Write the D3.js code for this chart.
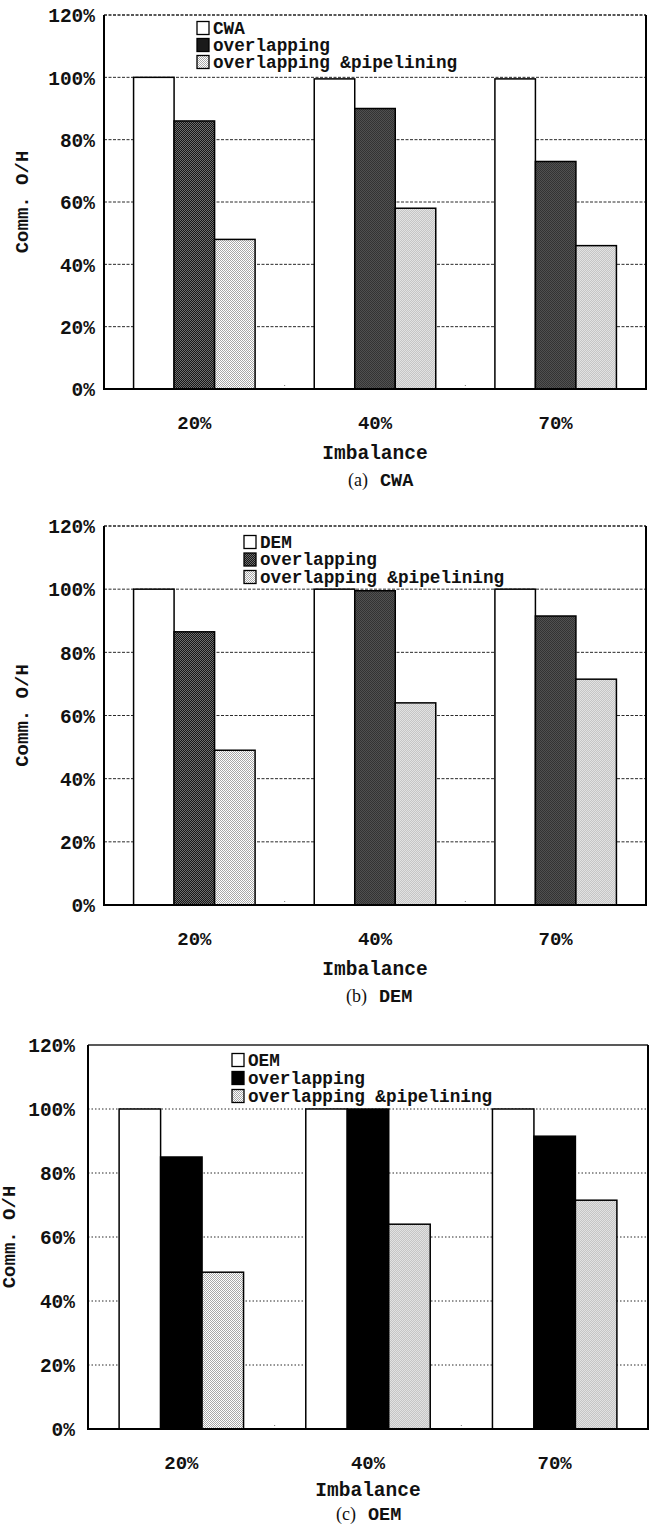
<!DOCTYPE html>
<html>
<head>
<meta charset="utf-8">
<script src="https://cdn.jsdelivr.net/npm/d3@7"></script>
<style>
  html, body { margin: 0; padding: 0; background: #fff; }
  svg { display: block; }
  .mono { font-family: "Liberation Mono", "DejaVu Sans Mono", monospace; font-weight: bold; fill: #111; }
  .serif { font-family: "Liberation Serif", "DejaVu Serif", serif; fill: #111; }
</style>
</head>
<body>
<svg id="fig" width="650" height="1527"></svg>
<script>
// Imbalance levels on the x axis and the y-axis tick values (percent).
const categories = ["20%", "40%", "70%"];
const yTickValues = [0, 20, 40, 60, 80, 100, 120];
const seriesKeys = ["base", "overlap", "pipe"];

// (a) CWA
const cwaNames = ["CWA", "overlapping", "overlapping &pipelining"];
const cwaBase = [100, 99.5, 99.5];
const cwaOverlap = [86, 90, 73];
const cwaPipe = [48, 58, 46];

// (b) DEM
const demNames = ["DEM", "overlapping", "overlapping &pipelining"];
const demBase = [100, 100, 100];
const demOverlap = [86.5, 99.5, 91.5];
const demPipe = [49, 64, 71.5];

// (c) OEM
const oemNames = ["OEM", "overlapping", "overlapping &pipelining"];
const oemBase = [100, 100, 100];
const oemOverlap = [85, 100, 91.5];
const oemPipe = [49, 64, 71.5];

const svg = d3.select("#fig");
const defs = svg.append("defs");

// Halftone-like screens used for the shaded bars.
function checker(id, a, b) {
  const p = defs.append("pattern").attr("id", id)
    .attr("patternUnits", "userSpaceOnUse").attr("width", 2).attr("height", 2);
  p.append("rect").attr("width", 2).attr("height", 2).attr("fill", a);
  p.append("rect").attr("width", 1).attr("height", 1).attr("fill", b);
  p.append("rect").attr("x", 1).attr("y", 1).attr("width", 1).attr("height", 1).attr("fill", b);
}
checker("darkScreen", "#161616", "#6e6e6e");
checker("lightScreen", "#ffffff", "#a8a8a8");

function panel(opt) {
  const g = svg.append("g");
  const { left, right, top, bottom } = opt;

  const x0 = d3.scaleBand().domain(categories).range([left, right]).padding(0);
  const x1 = d3.scaleBand().domain(seriesKeys).range([0, x0.bandwidth()])
    .paddingInner(0).paddingOuter(opt.outer);
  const y = d3.scaleLinear().domain([0, 120]).range([bottom, top]);

  // horizontal gridlines
  g.append("g").selectAll("line").data(yTickValues.filter(v => v > 0 && v < 120)).join("line")
    .attr("x1", left).attr("x2", right)
    .attr("y1", d => y(d)).attr("y2", d => y(d))
    .attr("stroke", "#2a2a2a").attr("stroke-width", 1)
    .attr("stroke-dasharray", opt.gridDash);

  // small marks between category groups on the baseline
  g.append("g").selectAll("line").data(categories.slice(1)).join("line")
    .attr("x1", d => x0(d)).attr("x2", d => x0(d))
    .attr("y1", bottom).attr("y2", bottom - 6)
    .attr("stroke", "#777").attr("stroke-width", 1).attr("stroke-dasharray", "1,2");

  const rows = categories.map((c, i) => ({
    cat: c,
    vals: [
      { key: "base", v: opt.base[i] },
      { key: "overlap", v: opt.overlap[i] },
      { key: "pipe", v: opt.pipe[i] }
    ]
  }));

  const fills = { base: "#ffffff", overlap: opt.overlapFill, pipe: "url(#lightScreen)" };

  g.append("g").selectAll("g").data(rows).join("g")
    .attr("transform", d => `translate(${x0(d.cat)},0)`)
    .selectAll("rect").data(d => d.vals).join("rect")
    .attr("x", d => x1(d.key))
    .attr("width", x1.bandwidth())
    .attr("y", d => y(d.v))
    .attr("height", d => y(0) - y(d.v))
    .attr("fill", d => fills[d.key])
    .attr("stroke", "#000").attr("stroke-width", 1.5);

  // plot frame
  g.append("line").attr("x1", left).attr("x2", right).attr("y1", top).attr("y2", top)
    .attr("stroke", "#222").attr("stroke-width", 1.6).attr("stroke-dasharray", opt.topDash);
  g.append("path")
    .attr("d", `M${left},${top}V${bottom}H${right}V${top}`)
    .attr("fill", "none").attr("stroke", "#000").attr("stroke-width", 2);

  // y axis labels
  const yAxis = d3.axisLeft(y).tickValues(yTickValues).tickFormat(d => d + "%")
    .tickSize(0).tickPadding(opt.yPad);
  const ya = g.append("g").attr("transform", `translate(${left},0)`).call(yAxis);
  ya.select(".domain").remove();
  ya.selectAll("text").attr("class", "mono").style("font-size", "19.5px").attr("dy", "0.35em");

  // x axis labels
  const xAxis = d3.axisBottom(x0).tickSize(0).tickPadding(0);
  const xa = g.append("g").attr("transform", `translate(0,${bottom + 33})`).call(xAxis);
  xa.select(".domain").remove();
  xa.selectAll("text").attr("class", "mono").style("font-size", "19px").attr("dy", "0.35em");

  const cx = (left + right) / 2;
  g.append("text").attr("class", "mono").style("font-size", "19.5px")
    .attr("x", cx).attr("y", bottom + opt.titleOff).attr("dy", "0.35em")
    .attr("text-anchor", "middle").text("Imbalance");

  g.append("text").attr("class", "mono").style("font-size", "19px")
    .attr("transform", `translate(${opt.yTitleX},${(top + bottom) / 2}) rotate(-90)`)
    .attr("dy", "0.35em").attr("text-anchor", "middle").text("Comm. O/H");

  // caption
  const cap = g.append("text").attr("x", opt.capX).attr("y", bottom + opt.capOff).attr("dy", "0.35em");
  cap.append("tspan").attr("class", "serif").style("font-size", "18px").text(opt.letter);
  cap.append("tspan").attr("class", "mono").style("font-size", "18.5px").attr("dx", 12).text(opt.names[0]);

  // legend
  const lg = g.append("g");
  const legendFills = [
    "#ffffff",
    opt.legendOverlapFill,
    "url(#lightScreen)"
  ];
  opt.names.forEach((name, i) => {
    const ry = opt.legY + i * opt.legStep;
    lg.append("rect").attr("x", opt.legX).attr("y", ry - 6.5)
      .attr("width", 12).attr("height", 13)
      .attr("fill", legendFills[i]).attr("stroke", "#000").attr("stroke-width", 1.3);
    lg.append("text").attr("class", "mono").style("font-size", "17.7px")
      .attr("x", opt.legX + 16).attr("y", ry).attr("dy", "0.32em").text(name);
  });
}

panel({
  left: 104, right: 646, top: 15, bottom: 389, outer: 0.73,
  base: cwaBase, overlap: cwaOverlap, pipe: cwaPipe, names: cwaNames,
  overlapFill: "url(#darkScreen)", legendOverlapFill: "#1a1a1a",
  gridDash: "3,1.5", topDash: "3,1.5", yPad: 9,
  titleOff: 63, capOff: 91, capX: 348, letter: "(a)", yTitleX: 21,
  legX: 197, legY: 28, legStep: 17
});

panel({
  left: 104, right: 646, top: 526, bottom: 905, outer: 0.73,
  base: demBase, overlap: demOverlap, pipe: demPipe, names: demNames,
  overlapFill: "url(#darkScreen)", legendOverlapFill: "url(#darkScreen)",
  gridDash: "3,1.5", topDash: "3,1.5", yPad: 9,
  titleOff: 63, capOff: 91, capX: 346, letter: "(b)", yTitleX: 21,
  legX: 244, legY: 542, legStep: 17.5
});

panel({
  left: 88, right: 648, top: 1045, bottom: 1429, outer: 0.75,
  base: oemBase, overlap: oemOverlap, pipe: oemPipe, names: oemNames,
  overlapFill: "#000", legendOverlapFill: "#000",
  gridDash: "1.5,2", topDash: null, yPad: 13,
  titleOff: 60, capOff: 85, capX: 336, letter: "(c)", yTitleX: 8,
  legX: 232, legY: 1060, legStep: 18
});
</script>
</body>
</html>
